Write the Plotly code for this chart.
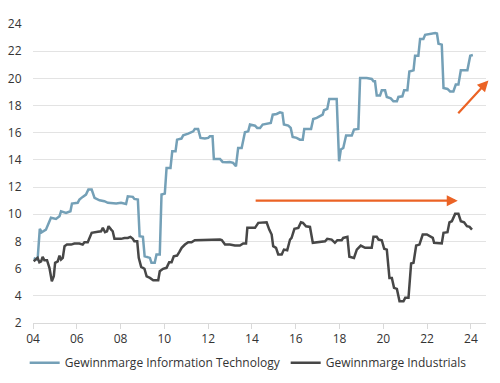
import plotly.graph_objects as go

it_x = [2004.03,2004.21,2004.31,2004.40,2004.59,2004.75,2004.82,2005.05,2005.21,2005.28,2005.51,2005.71,2005.78,
        2006.04,2006.12,2006.27,2006.42,2006.53,2006.68,2006.81,2007.04,2007.26,2007.42,2007.80,2008.02,2008.25,
        2008.33,2008.56,2008.63,2008.79,2008.87,2009.02,2009.10,2009.34,2009.41,2009.56,2009.64,2009.79,2009.87,
        2010.02,2010.10,2010.28,2010.36,2010.51,2010.58,2010.78,2010.86,2011.09,2011.32,2011.39,2011.54,2011.65,
        2011.85,2012.00,2012.08,2012.20,2012.26,2012.54,2012.66,2012.84,2012.99,2013.14,2013.27,2013.37,2013.53,
        2013.68,2013.83,2013.91,2014.14,2014.24,2014.37,2014.49,2014.67,2014.86,2014.95,2015.13,2015.28,2015.39,
        2015.46,2015.66,2015.77,2015.86,2016.04,2016.19,2016.32,2016.39,2016.70,2016.80,2016.96,2017.11,2017.23,
        2017.29,2017.44,2017.53,2017.87,2017.98,2018.06,2018.17,2018.30,2018.56,2018.66,2018.86,2018.94,2019.24,
        2019.47,2019.55,2019.62,2019.70,2019.85,2019.93,2020.08,2020.16,2020.34,2020.46,2020.62,2020.69,2020.87,
        2020.95,2021.10,2021.19,2021.38,2021.45,2021.60,2021.68,2021.83,2021.91,2022.14,2022.37,2022.45,2022.52,
        2022.67,2022.75,2022.93,2023.05,2023.20,2023.31,2023.43,2023.54,2023.84,2023.97,2024.09]
it_y = [6.76,6.67,8.93,8.68,8.87,9.41,9.74,9.66,9.85,10.22,10.10,10.22,10.79,
        10.84,11.08,11.28,11.45,11.82,11.82,11.20,11.03,10.96,10.84,10.79,10.84,10.76,
        11.32,11.28,11.13,11.08,8.38,8.34,6.91,6.79,6.43,6.43,7.04,7.04,11.45,
        11.52,13.41,13.41,14.63,14.63,15.49,15.57,15.81,15.93,16.10,16.28,16.28,15.62,
        15.57,15.62,15.74,15.74,14.07,14.07,13.85,13.82,13.85,13.78,13.53,14.88,14.88,
        16.03,16.10,16.60,16.52,16.35,16.35,16.60,16.67,16.72,17.33,17.38,17.50,17.45,
        16.60,16.52,16.35,15.69,15.62,15.49,15.49,16.28,16.28,17.01,17.09,17.21,17.33,
        17.65,17.75,18.49,18.49,13.90,14.76,14.88,15.79,15.79,16.23,16.28,20.03,20.03,
        19.96,19.78,19.78,18.73,18.73,19.12,19.12,18.63,18.53,18.31,18.31,18.63,18.68,
        19.12,19.12,20.51,20.59,21.67,21.67,22.90,22.90,23.21,23.29,23.34,23.30,22.55,
        22.48,19.29,19.22,19.04,19.04,19.54,19.54,20.59,20.59,21.67,21.72]

ind_x = [2004.03,2004.14,2004.21,2004.29,2004.37,2004.44,2004.52,2004.64,2004.75,2004.86,2004.95,2005.01,2005.13,
         2005.21,2005.28,2005.36,2005.44,2005.55,2005.74,2005.89,2006.12,2006.27,2006.35,2006.50,2006.58,2006.68,
         2006.96,2007.11,2007.19,2007.29,2007.38,2007.45,2007.57,2007.64,2007.72,2008.02,2008.18,2008.33,2008.45,
         2008.56,2008.63,2008.76,2008.83,2008.94,2009.09,2009.19,2009.34,2009.49,2009.72,2009.79,2009.94,2010.10,
         2010.22,2010.33,2010.43,2010.58,2010.68,2010.79,2010.94,2011.09,2011.24,2011.39,2012.54,2012.62,2012.77,
         2012.99,2013.22,2013.45,2013.60,2013.73,2013.79,2014.14,2014.29,2014.67,2014.79,2014.90,2014.97,2015.10,
         2015.20,2015.36,2015.46,2015.61,2015.74,2015.81,2015.94,2016.12,2016.24,2016.33,2016.47,2016.65,2016.78,
         2016.96,2017.11,2017.34,2017.44,2017.64,2017.79,2017.90,2018.10,2018.17,2018.36,2018.45,2018.66,2018.79,
         2018.97,2019.17,2019.47,2019.55,2019.70,2019.78,2019.93,2020.04,2020.16,2020.28,2020.39,2020.49,2020.62,
         2020.74,2020.92,2021.00,2021.15,2021.27,2021.38,2021.50,2021.65,2021.80,2021.99,2022.14,2022.26,2022.32,
         2022.67,2022.75,2022.93,2023.02,2023.13,2023.28,2023.43,2023.54,2023.69,2023.82,2023.94,2024.05]
ind_y = [6.54,6.67,6.79,6.47,6.54,6.87,6.62,6.62,6.06,5.07,5.44,6.43,6.54,
         6.96,6.67,6.79,7.65,7.77,7.77,7.85,7.85,7.77,7.94,7.94,8.26,8.63,
         8.71,8.75,9.00,8.68,8.75,9.12,8.87,8.75,8.19,8.19,8.26,8.26,8.34,
         8.19,8.01,8.01,6.79,6.13,5.99,5.44,5.32,5.15,5.15,5.81,5.99,6.06,
         6.47,6.47,6.91,6.96,7.21,7.53,7.77,7.94,7.94,8.09,8.14,8.10,7.77,
         7.77,7.70,7.70,7.85,7.85,9.00,9.00,9.37,9.41,8.87,8.51,7.65,7.53,
         7.04,7.04,7.40,7.35,8.14,8.26,8.93,9.00,9.41,9.37,9.12,9.07,7.90,
         7.94,8.01,8.01,8.19,8.14,7.90,8.09,8.09,8.26,8.34,6.87,6.79,7.40,
         7.70,7.53,7.53,8.34,8.34,8.14,8.09,7.46,7.40,5.32,5.32,4.59,4.51,
         3.60,3.60,3.85,3.85,6.38,6.43,7.70,7.77,8.51,8.51,8.34,8.26,7.90,
         7.85,8.63,8.68,9.41,9.49,10.03,10.03,9.49,9.41,9.12,9.07,8.87]

tick_vals = [2004, 2006, 2008, 2010, 2012, 2014, 2016, 2018, 2020, 2022, 2024]
tick_text = ["04", "06", "08", "10", "12", "14", "16", "18", "20", "22", "24"]
y_ticks = [2, 4, 6, 8, 10, 12, 14, 16, 18, 20, 22, 24]

# arrows: (x_start, y_start, x_end, y_end)
flat_arrow = (2014.1, 11.0, 2023.4, 11.0)
up_arrow = (2023.36, 17.33, 2024.8, 19.85)

IT_COLOR = "#74A0B7"
IND_COLOR = "#474747"
ORANGE = "#EB6325"

fig = go.Figure()
fig.add_trace(go.Scatter(x=it_x, y=it_y, mode="lines", name="Gewinnmarge Information Technology",
                         line=dict(color=IT_COLOR, width=2.5), cliponaxis=False))
fig.add_trace(go.Scatter(x=ind_x, y=ind_y, mode="lines", name="Gewinnmarge Industrials",
                         line=dict(color=IND_COLOR, width=2.5), cliponaxis=False))

for (x0, y0, x1, y1) in [flat_arrow, up_arrow]:
    fig.add_annotation(x=x1, y=y1, ax=x0, ay=y0, xref="x", yref="y", axref="x", ayref="y",
                       text="", showarrow=True, arrowhead=2, arrowsize=1, arrowwidth=2.2,
                       arrowcolor=ORANGE)

fig.update_layout(
    width=500, height=383,
    margin=dict(l=33, r=14, t=24, b=60, autoexpand=False),
    paper_bgcolor="white", plot_bgcolor="white",
    font=dict(family="Open Sans", size=12, color="#333333"),
    showlegend=True,
    legend=dict(orientation="h", x=0.475, xanchor="center",
                y=-0.133, yanchor="middle", itemwidth=30,
                font=dict(size=12, color="#333333"), tracegroupgap=0,
                bgcolor="rgba(0,0,0,0)"),
    xaxis=dict(range=[2004, 2024.69], tickvals=tick_vals, ticktext=tick_text, automargin=False,
               showgrid=False, zeroline=False, showline=True, linecolor="#D9D9D9",
               ticks="outside", ticklen=5, tickcolor="#D9D9D9", tickfont=dict(size=12)),
    yaxis=dict(range=[2, 24], tickvals=y_ticks, showgrid=True, gridcolor="#E3E3E3", automargin=False,
               zeroline=False, showline=False, ticks="outside", ticklen=8, tickcolor="rgba(0,0,0,0)",
               tickfont=dict(size=12)),
)

fig.write_html("out.html", config={"displayModeBar": False},
               post_script="document.body.style.margin='0';")
